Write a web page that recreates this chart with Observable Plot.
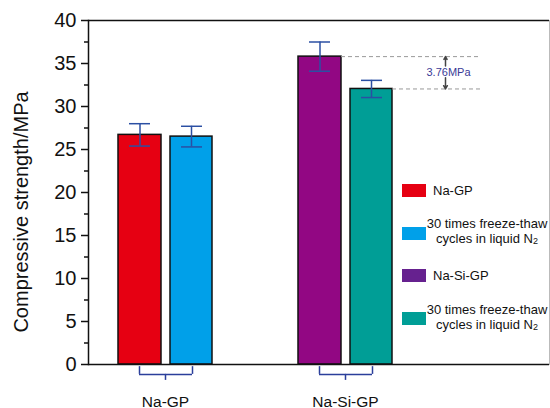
<!DOCTYPE html>
<html>
<head>
<meta charset="utf-8">
<script src="https://cdn.jsdelivr.net/npm/d3@7"></script>
<script src="https://cdn.jsdelivr.net/npm/@observablehq/plot@0.6"></script>
<style>
  html, body { margin: 0; padding: 0; background: #fff; }
  #wrap { position: relative; width: 550px; height: 408px; font-family: "Liberation Sans", Arial, sans-serif; }
  #wrap svg { position: absolute; left: 0; top: 0; }
  .sw { position: absolute; width: 24px; height: 13px; }
  .lt { position: absolute; font-size: 13px; line-height: 15px; color: #111; white-space: nowrap; }
  .lt sub { font-size: 9px; vertical-align: -1px; line-height: 0; }
</style>
</head>
<body>
<div id="wrap"></div>
<script>
// ---- data ----
const groups = ["Na-GP", "Na-Si-GP"];
const untreated = [26.7, 35.8];      // as-prepared strength (MPa)
const untreatedErr = [1.3, 1.7];
const treated = [26.5, 32.04];       // after 30 freeze-thaw cycles in liquid N2
const treatedErr = [1.2, 1.0];
const yTicks = [0, 5, 10, 15, 20, 25, 30, 35, 40];
const yMinorTicks = [2.5, 7.5, 12.5, 17.5, 22.5, 27.5, 32.5, 37.5];
const legendLabels = ["Na-GP", "30 times freeze-thaw|cycles in liquid N<sub>2</sub>", "Na-Si-GP", "30 times freeze-thaw|cycles in liquid N<sub>2</sub>"];

// ---- styles ----
const barColors = ["#e60012", "#00a0e9", "#920783", "#009e96"];
const legendColors = ["#e60012", "#00a0e9", "#66218f", "#009e96"];
const errColor = "#2b4fa3";
const bracketColor = "#2b3f9b";

const rows = groups.flatMap((g, i) => [
  {group: g, kind: 0, value: untreated[i], err: untreatedErr[i], color: barColors[i * 2]},
  {group: g, kind: 1, value: treated[i], err: treatedErr[i], color: barColors[i * 2 + 1]}
]);
const A = rows.filter(d => d.kind === 0);
const B = rows.filter(d => d.kind === 1);
const diff = untreated[1] - treated[1];

const bTop = -0.25, bMid = -1.15, bStem = -1.85;

const chart = Plot.plot({
  width: 550, height: 408,
  marginLeft: 88, marginRight: 1, marginTop: 20, marginBottom: 44,
  style: {fontFamily: "'Liberation Sans', Arial, sans-serif", color: "#111", background: "transparent", overflow: "visible"},
  x: {type: "band", domain: groups, range: [75, 435], padding: 0},
  y: {domain: [0, 40]},
  color: {type: "identity"},
  marks: [
    Plot.frame({stroke: "#bbb", strokeWidth: 1}),
    Plot.barY(A, {x: "group", y: "value", fill: "color", stroke: "#111", strokeWidth: 1.5, insetLeft: 43, insetRight: 94}),
    Plot.barY(B, {x: "group", y: "value", fill: "color", stroke: "#111", strokeWidth: 1.5, insetLeft: 95, insetRight: 43}),
    // error bars
    Plot.ruleX(A, {x: "group", y1: d => d.value - d.err, y2: d => d.value + d.err, dx: -25.5, stroke: errColor, strokeWidth: 1.5}),
    Plot.tickY(A, {x: "group", y: d => d.value + d.err, insetLeft: 54, insetRight: 105, stroke: errColor, strokeWidth: 1.5}),
    Plot.tickY(A, {x: "group", y: d => d.value - d.err, insetLeft: 54, insetRight: 105, stroke: errColor, strokeWidth: 1.5}),
    Plot.ruleX(B, {x: "group", y1: d => d.value - d.err, y2: d => d.value + d.err, dx: 26, stroke: errColor, strokeWidth: 1.5}),
    Plot.tickY(B, {x: "group", y: d => d.value + d.err, insetLeft: 106, insetRight: 53, stroke: errColor, strokeWidth: 1.5}),
    Plot.tickY(B, {x: "group", y: d => d.value - d.err, insetLeft: 106, insetRight: 53, stroke: errColor, strokeWidth: 1.5}),
    // difference annotation
    Plot.ruleY([untreated[1]], {y: d => d, insetLeft: 253, insetRight: 69, stroke: "#999", strokeDasharray: "4,3"}),
    Plot.ruleY([treated[1]], {y: d => d, insetLeft: 304, insetRight: 69, stroke: "#999", strokeDasharray: "4,3"}),
    Plot.arrow([diff], {x1: () => groups[1], x2: () => groups[1], y1: () => untreated[1] - 1.1, y2: () => untreated[1], dx: 100, stroke: "#444", strokeWidth: 1.5, headLength: 6}),
    Plot.arrow([diff], {x1: () => groups[1], x2: () => groups[1], y1: () => treated[1] + 1.3, y2: () => treated[1], dx: 100, stroke: "#444", strokeWidth: 1.5, headLength: 6}),
    Plot.text([diff], {x: () => groups[1], y: () => (untreated[1] + treated[1]) / 2, dx: 103, text: d => d.toFixed(2) + "MPa", fill: "#3a3a96", fontSize: 11}),
    // axes lines
    Plot.ruleY([0, 40], {y: d => d, stroke: "#111", strokeWidth: 1.5}),
    Plot.frame({anchor: "left", stroke: "#111", strokeWidth: 1.5}),
    Plot.axisY({ticks: yTicks, tickSize: 7, tickPadding: 5, fontSize: 20, label: null, strokeWidth: 1.5}),
    Plot.axisY({ticks: yMinorTicks, tickSize: 4, tickFormat: () => "", label: null, strokeWidth: 1.5}),
    Plot.axisX({ticks: groups, tickSize: 0, tickPadding: 31, fontSize: 15.5, label: null}),
    // brackets under axis
    Plot.tickY(groups, {x: d => d, y: () => bMid, insetLeft: 64, insetRight: 63, stroke: bracketColor, strokeWidth: 1.5}),
    Plot.ruleX(groups, {x: d => d, y1: () => bTop, y2: () => bMid, dx: -26, stroke: bracketColor, strokeWidth: 1.5}),
    Plot.ruleX(groups, {x: d => d, y1: () => bTop, y2: () => bMid, dx: 27, stroke: bracketColor, strokeWidth: 1.5}),
    Plot.ruleX(groups, {x: d => d, y1: () => bMid, y2: () => bStem, stroke: bracketColor, strokeWidth: 1.5}),
    // y label
    Plot.text(["Compressive strength/MPa"], {text: d => d, frameAnchor: "left", textAnchor: "middle", rotate: -90, dx: -67, dy: 19.5, fontSize: 20, fill: "#111"})
  ]
});

const wrap = document.getElementById("wrap");
wrap.appendChild(chart);

// legend (HTML overlay)
legendLabels.forEach((lab, i) => {
  const top = 184 + i * 42.7;
  const sw = document.createElement("div");
  sw.className = "sw";
  sw.style.left = "402px";
  sw.style.top = top + "px";
  sw.style.background = legendColors[i];
  wrap.appendChild(sw);
  const cy = top + 6.5;
  const lines = lab.split("|");
  if (lines.length === 1) {
    const t = document.createElement("div");
    t.className = "lt";
    t.style.left = "433px";
    t.style.top = (cy - 8) + "px";
    t.innerHTML = lines[0];
    wrap.appendChild(t);
  } else {
    lines.forEach((ln, j) => {
      const t = document.createElement("div");
      t.className = "lt";
      t.style.left = "487px";
      t.style.transform = "translateX(-50%)";
      t.style.top = (cy + (j === 0 ? -9 : 6) - 8) + "px";
      t.innerHTML = ln;
      wrap.appendChild(t);
    });
  }
});
</script>
</body>
</html>
